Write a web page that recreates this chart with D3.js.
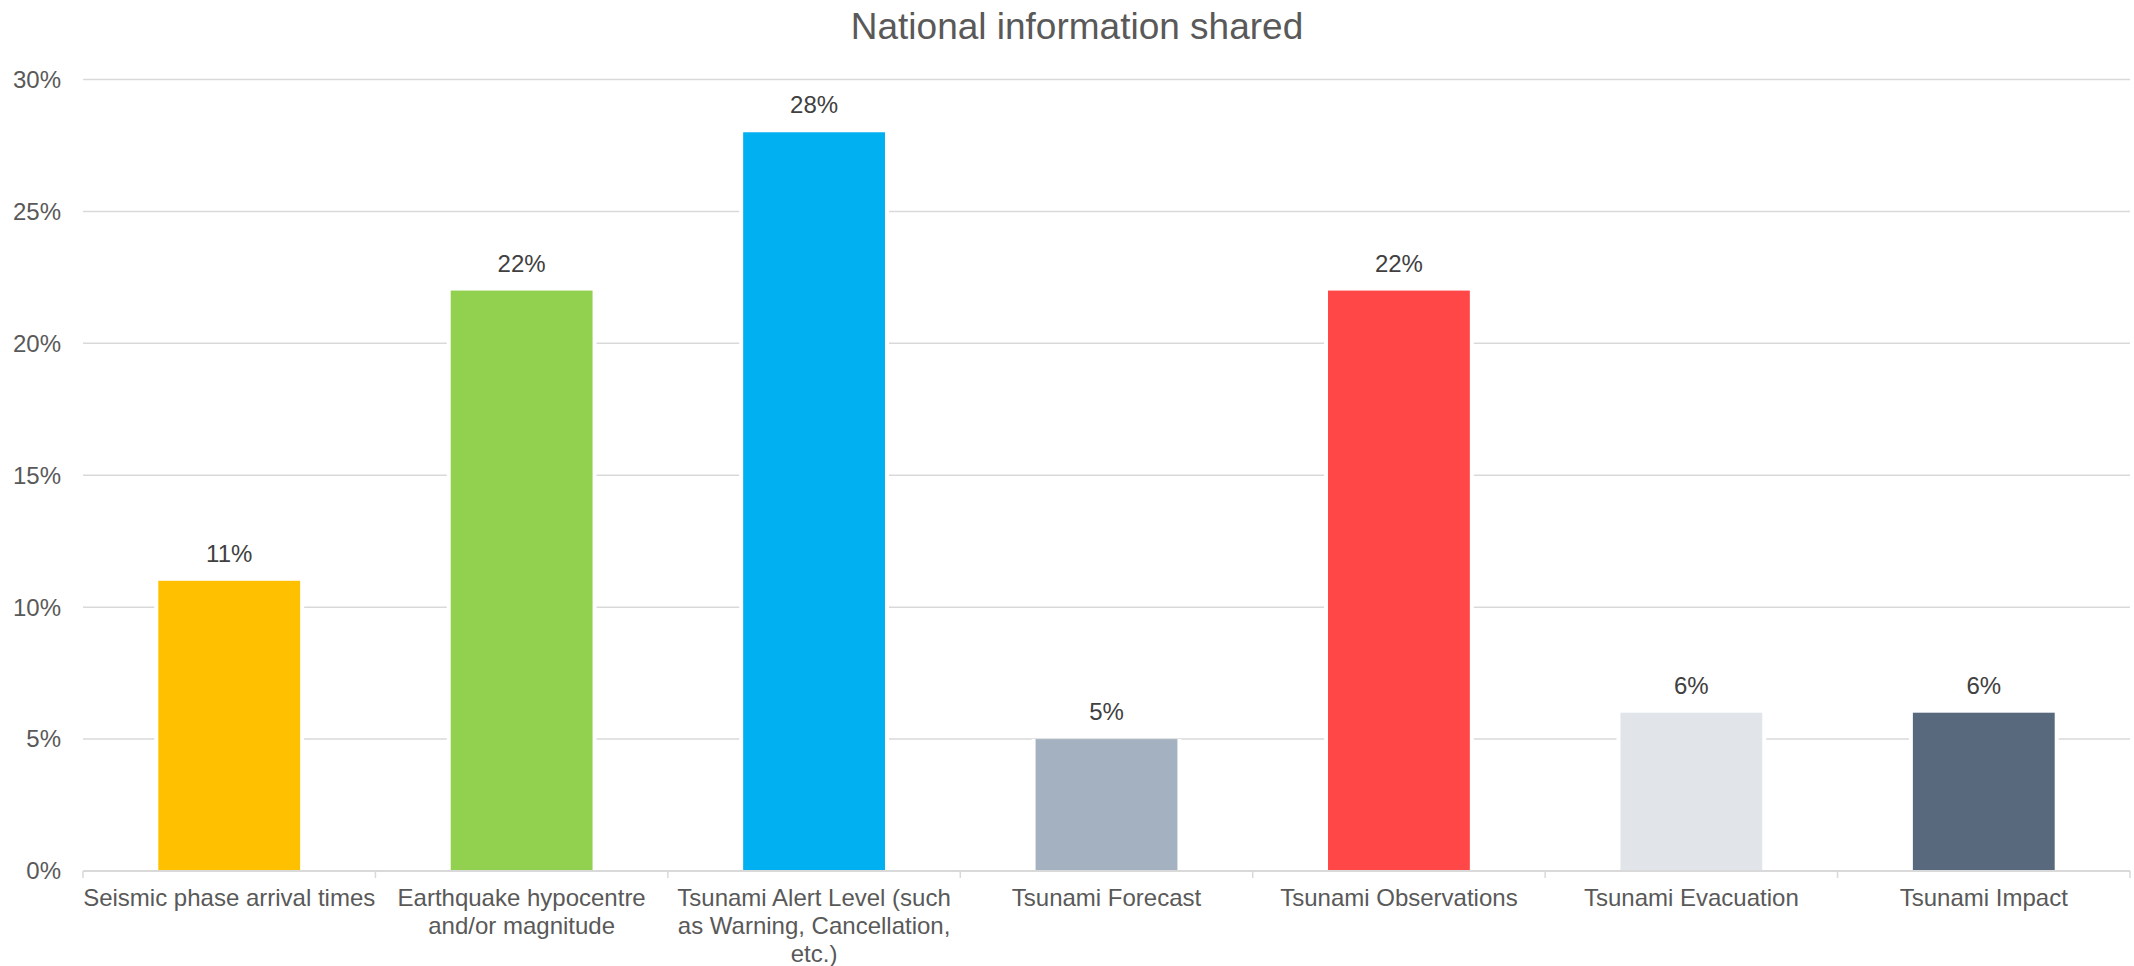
<!DOCTYPE html>
<html>
  <head>
    <meta charset="utf-8">
    <title>National information shared</title>
    <style>
      body { margin: 0; background: #fff; }
      text { font-family: 'Liberation Sans', Arial, sans-serif; }
      .grid line { stroke: #d9d9d9; stroke-width: 1.5; }
      .axis text { fill: #595959; font-size: 24px; }
      .label { fill: #404040; font-size: 24px; }
      .title { fill: #595959; font-size: 37px; }
    </style>
  </head>
  <body>
    <div id="chart"></div>
    <script src="https://cdn.jsdelivr.net/npm/d3@7"></script>
    <script>
      var categories = [
        'Seismic phase arrival times',
        'Earthquake hypocentre and/or magnitude',
        'Tsunami Alert Level (such as Warning, Cancellation, etc.)',
        'Tsunami Forecast',
        'Tsunami Observations',
        'Tsunami Evacuation',
        'Tsunami Impact'
      ];
      var values = [11, 22, 28, 5, 22, 6, 6];
      var colors = ['#ffc000', '#92d050', '#00b0f0', '#a3b1c0', '#ff4747', '#e1e5ea', '#58697e'];
      var yTicks = [0, 5, 10, 15, 20, 25, 30];

      var width = 2134, height = 966;
      var margin = {top: 79.5, right: 4, bottom: 95, left: 83};

      var svg = d3.select('#chart').append('svg')
        .attr('width', width)
        .attr('height', height);

      var x = d3.scaleBand()
        .domain(categories)
        .range([margin.left, width - margin.right])
        .padding(0);

      var y = d3.scaleLinear()
        .domain([0, 30])
        .range([height - margin.bottom, margin.top]);

      var barW = x.bandwidth() * 0.485;

      svg.append('text')
        .attr('class', 'title')
        .attr('x', 1077)
        .attr('y', 39)
        .attr('text-anchor', 'middle')
        .text('National information shared');

      // gridlines
      var grid = svg.append('g').attr('class', 'grid');
      grid.selectAll('line')
        .data(yTicks.filter(function(d) { return d > 0; }))
        .enter().append('line')
        .attr('x1', margin.left)
        .attr('x2', width - margin.right)
        .attr('y1', function(d) { return y(d); })
        .attr('y2', function(d) { return y(d); });

      // y labels
      var yAxis = svg.append('g').attr('class', 'axis');
      yAxis.selectAll('text')
        .data(yTicks)
        .enter().append('text')
        .attr('x', 61)
        .attr('y', function(d) { return y(d); })
        .attr('dy', '0.35em')
        .attr('text-anchor', 'end')
        .text(function(d) { return d + '%'; });

      // bars, with a white gap that cuts the gridlines
      var bars = svg.append('g');
      bars.selectAll('rect.gap')
        .data(values)
        .enter().append('rect')
        .attr('class', 'gap')
        .attr('fill', '#fff')
        .attr('x', function(d, i) { return x(categories[i]) + (x.bandwidth() - barW) / 2 - 4; })
        .attr('width', barW + 8)
        .attr('y', function(d) { return y(d); })
        .attr('height', function(d) { return y(0) - y(d); });

      bars.selectAll('rect.bar')
        .data(values)
        .enter().append('rect')
        .attr('class', 'bar')
        .attr('fill', function(d, i) { return colors[i]; })
        .attr('x', function(d, i) { return x(categories[i]) + (x.bandwidth() - barW) / 2; })
        .attr('width', barW)
        .attr('y', function(d) { return y(d); })
        .attr('height', function(d) { return y(0) - y(d); });

      bars.selectAll('text')
        .data(values)
        .enter().append('text')
        .attr('class', 'label')
        .attr('x', function(d, i) { return x(categories[i]) + x.bandwidth() / 2; })
        .attr('y', function(d) { return y(d) - 19; })
        .attr('text-anchor', 'middle')
        .text(function(d) { return d + '%'; });

      // x axis line and ticks
      var xAxis = svg.append('g').attr('class', 'grid');
      xAxis.append('line')
        .attr('x1', margin.left)
        .attr('x2', width - margin.right)
        .attr('y1', y(0))
        .attr('y2', y(0))
        .style('stroke-width', 2);
      var bounds = categories.map(function(c) { return x(c); }).concat([x.range()[1]]);
      xAxis.selectAll('line.tick')
        .data(bounds)
        .enter().append('line')
        .attr('class', 'tick')
        .attr('x1', function(d) { return d; })
        .attr('x2', function(d) { return d; })
        .attr('y1', y(0))
        .attr('y2', y(0) + 7);

      // category labels, wrapped to the band width
      var xLabels = svg.append('g').attr('class', 'axis');
      xLabels.selectAll('text')
        .data(categories)
        .enter().append('text')
        .attr('text-anchor', 'middle')
        .attr('x', function(d) { return x(d) + x.bandwidth() / 2; })
        .attr('y', 906)
        .each(function(d) {
          var t = d3.select(this);
          var cx = x(d) + x.bandwidth() / 2;
          var words = d.split(' ');
          var line = [];
          var tspan = t.append('tspan').attr('x', cx).attr('dy', 0);
          words.forEach(function(w) {
            line.push(w);
            tspan.text(line.join(' '));
            if (tspan.node().getComputedTextLength() > x.bandwidth() + 2 && line.length > 1) {
              line.pop();
              tspan.text(line.join(' '));
              line = [w];
              tspan = t.append('tspan').attr('x', cx).attr('dy', 28).text(w);
            }
          });
        });
    </script>
  </body>
</html>
